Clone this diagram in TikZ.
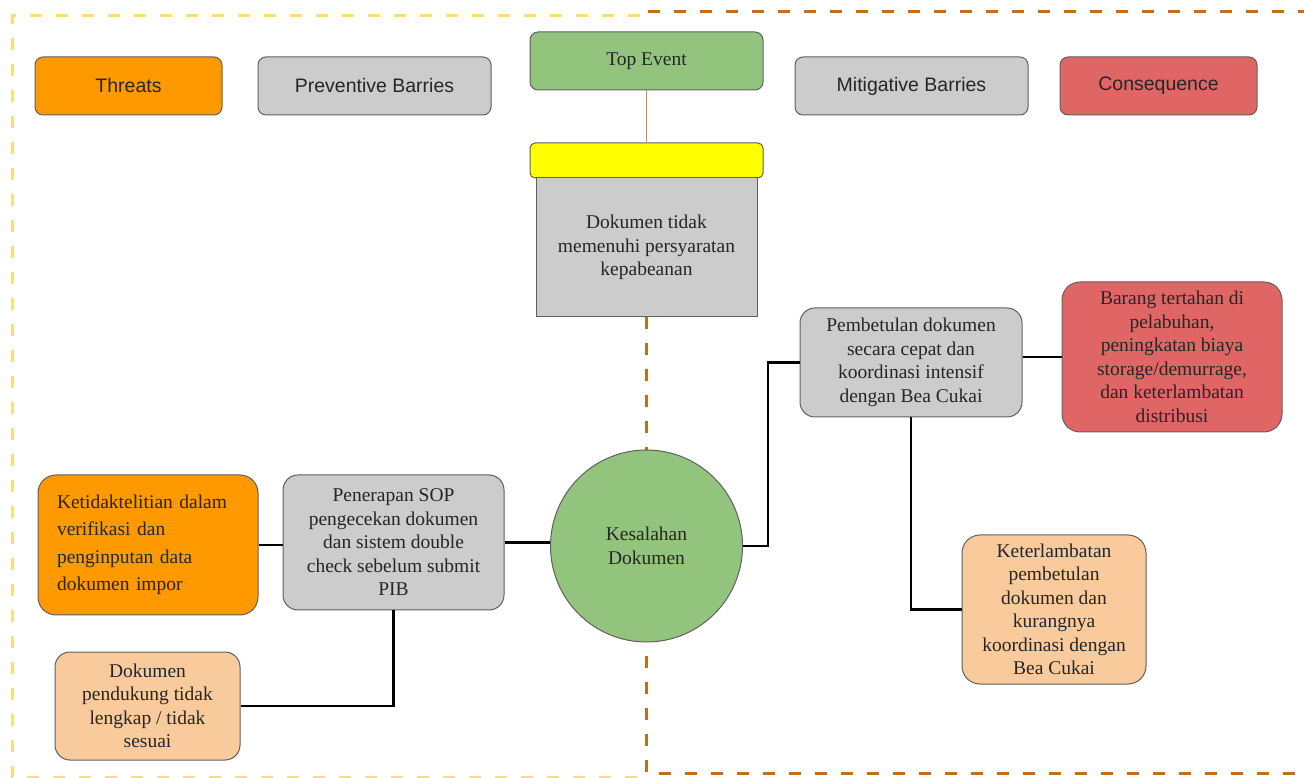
\documentclass[tikz,border=0pt]{standalone}
\usepackage{fontspec}
\setmainfont{Liberation Serif}
\setsansfont{Liberation Sans}
\usetikzlibrary{backgrounds,positioning}
\definecolor{threatorange}{HTML}{FF9900}
\definecolor{barriergray}{HTML}{CCCCCC}
\definecolor{eventgreen}{HTML}{93C47D}
\definecolor{consred}{HTML}{E06666}
\definecolor{lightorange}{HTML}{F9CB9C}
\definecolor{lidyellow}{HTML}{FFFF00}
\definecolor{edgegray}{HTML}{5F5F5F}
\definecolor{dashyellow}{HTML}{FFDB80}
\definecolor{dashbrown}{HTML}{BF6F20}
\definecolor{stemorange}{HTML}{E08A3C}

\begin{document}
\begin{tikzpicture}[x=1pt,y=1pt,
  headbox/.style={draw=edgegray,line width=1pt,rounded corners=8pt,minimum width=233pt,minimum height=58pt,font=\sffamily\fontsize{19.5}{23.5}\selectfont,text=black!85},
  textbox/.style={draw=edgegray,line width=1pt,rounded corners=15pt,align=center,font=\fontsize{19.5}{23.5}\selectfont,text=black!85},
  wire/.style={line width=2.8pt},
  yellowdash/.style={dashyellow,line width=3pt,dash pattern=on 12pt off 14pt},
  browndash/.style={dashbrown,line width=3pt,dash pattern=on 12pt off 14pt}]
\useasboundingbox (0,0) rectangle (1304,777);

\node[headbox,fill=threatorange,minimum width=187pt] (threats) at (128.5,691) {Threats};
\node[headbox,fill=barriergray] (prevhead) at (374.5,691) {Preventive Barries};
\node[headbox,fill=eventgreen,font=\fontsize{19.5}{23.5}\selectfont] (topevent) at (646.5,716) {Top Event};
\node[headbox,fill=barriergray] (mithead) at (911.5,691) {Mitigative Barries};
\node[headbox,fill=consred,minimum width=197pt] (conshead) at (1158.5,691) {Consequence};

\node[draw=edgegray,line width=1pt,fill=lidyellow,rounded corners=5pt,minimum width=233pt,minimum height=35pt] (lid) at (646.5,616.5) {};
\node[textbox,rounded corners=0pt,fill=barriergray,minimum width=221pt,minimum height=139pt] (topbox) at (646.5,529.5) {Dokumen tidak\\memenuhi persyaratan\\kepabeanan};
\node[textbox,circle,fill=eventgreen,minimum size=192pt] (hazard) at (646.5,231) {Kesalahan\\Dokumen};

\node[textbox,fill=threatorange,rounded corners=18pt,minimum width=220pt,minimum height=140pt,text width=182pt,align=left,font=\fontsize{19.5}{27.5}\selectfont] (threat1) at (148,232) {Ketidaktelitian dalam\\verifikasi dan\\penginputan data\\dokumen impor};
\node[textbox,fill=lightorange,minimum width=185pt,minimum height=108pt] (threat2) at (147.5,71) {Dokumen\\pendukung tidak\\lengkap / tidak\\sesuai};
\node[textbox,fill=barriergray,minimum width=221pt,minimum height=135pt] (prevbar) at (393.5,234.5) {Penerapan SOP\\pengecekan dokumen\\dan sistem double\\check sebelum submit\\PIB};

\node[textbox,fill=barriergray,minimum width=222pt,minimum height=109pt] (mitbar) at (911,414.5) {Pembetulan dokumen\\secara cepat dan\\koordinasi intensif\\dengan Bea Cukai};
\node[textbox,fill=consred,rounded corners=18pt,minimum width=220pt,minimum height=150pt] (cons1) at (1172,420) {Barang tertahan di\\pelabuhan,\\peningkatan biaya\\storage/demurrage,\\dan keterlambatan\\distribusi};
\node[textbox,fill=lightorange,rounded corners=18pt,minimum width=184pt,minimum height=149pt] (cons2) at (1054,167.5) {Keterlambatan\\pembetulan\\dokumen dan\\kurangnya\\koordinasi dengan\\Bea Cukai};

\begin{scope}[on background layer]
\draw[yellowdash] (640,761) -- (12,761) -- (12,0) -- (645,0);
\draw[browndash] (1310,765) -- (638,765);
\draw[browndash] (topbox.south) -- (topbox.south |- 0,4) -- (1310,4);
\end{scope}

\draw[stemorange,line width=1.5pt] (topevent.south) -- (lid.north);
\draw[wire] (threat1.east) -- (threat1.east -| prevbar.west);
\draw[wire] (prevbar.east) -- (prevbar.east -| hazard.west);
\draw[wire] (prevbar.south) |- (threat2.east);
\draw[wire] (hazard.east) -- ++(25,0) |- (mitbar.west);
\draw[wire] (mitbar.east |- cons1.west) -- (cons1.west);
\draw[wire] (mitbar.south) |- (cons2.west);
\end{tikzpicture}
\end{document}
